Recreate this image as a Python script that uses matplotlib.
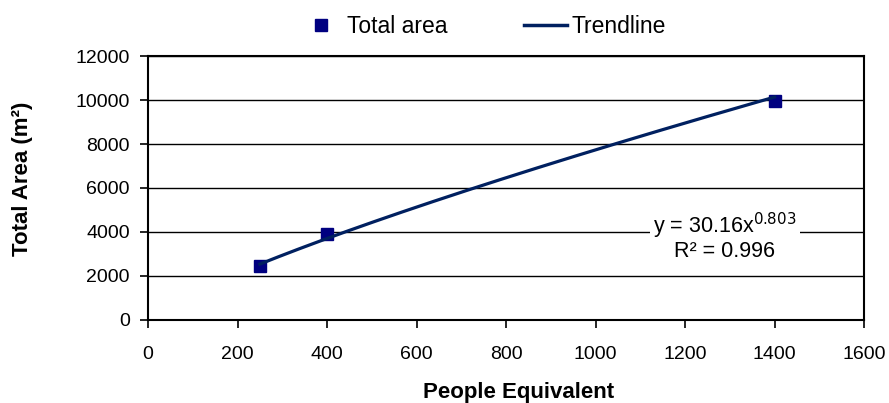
import numpy as np
import matplotlib.pyplot as plt
from matplotlib.lines import Line2D

people = [250, 400, 1400]
area = [2450, 3900, 9950]
coef = 30.16
expo = 0.803
xticks = [0, 200, 400, 600, 800, 1000, 1200, 1400, 1600]
yticks = [0, 2000, 4000, 6000, 8000, 10000, 12000]

plt.rcParams['font.family'] = ['Liberation Sans', 'DejaVu Sans']
navy = '#000080'
trend_col = '#002060'

fig = plt.figure(figsize=(8.89, 4.03), dpi=100)
ax = fig.add_axes([0.1665, 0.206, 0.8055, 0.655])

# markers first, trendline drawn over them like excel does
ax.plot(people, area, 's', color=navy, ms=8.5, zorder=3)
xt = np.linspace(min(people), max(people), 200)
ax.plot(xt, coef * xt ** expo, color=trend_col, lw=2.3, zorder=4)

ax.set_xlim(0, 1600)
ax.set_ylim(0, 12000)
ax.set_xticks(xticks)
ax.set_yticks(yticks)
ax.yaxis.grid(True, color='black', lw=1)
ax.set_axisbelow(True)
for s in ax.spines.values():
    s.set_linewidth(1.5)
ax.tick_params(axis='both', labelsize=14, length=6, width=1.2, direction='out')
ax.tick_params(axis='x', pad=13)
ax.tick_params(axis='y', pad=7)

ax.set_xlabel('People Equivalent', fontsize=16, fontweight='bold')
ax.set_ylabel('Total Area (m²)', fontsize=16, fontweight='bold')
ax.xaxis.set_label_coords(0.517, -0.235)
ax.yaxis.set_label_coords(-0.161, 0.535)

ax.text(1289, 3800, 'y = 30.16x$^{0.803}$\nR² = 0.996', fontsize=15.5, ha='center', va='center',
        linespacing=1.05, bbox=dict(facecolor='white', edgecolor='none', boxstyle='square,pad=0.15'),
        zorder=5)

handles = [Line2D([], [], marker='s', ls='none', color=navy, ms=8.5),
           Line2D([], [], color=trend_col, lw=2.5)]
fig.legend(handles, ['Total area', 'Trendline'], loc='upper center', bbox_to_anchor=(0.543, 1.015),
           ncol=2, frameon=False, fontsize=16.5, handlelength=1.9, columnspacing=3.3, handletextpad=0.2)

fig.savefig('out.png', dpi=100)
